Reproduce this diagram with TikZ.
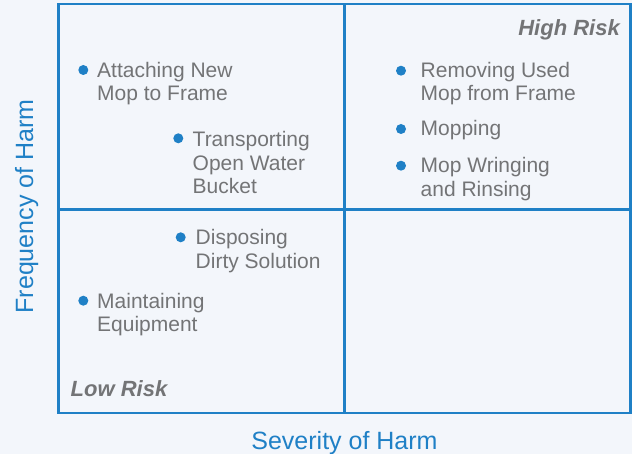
\documentclass[tikz,border=0pt]{standalone}
\usepackage{fontspec}
\setmainfont{Liberation Sans}
\definecolor{bg}{HTML}{F3F6FB}
\definecolor{gridblue}{HTML}{1F80C6}
\definecolor{txtgray}{HTML}{737476}
\begin{document}
\begin{tikzpicture}[x=1pt,y=-1pt,
  item/.style={anchor=base west,inner sep=0pt,align=left,text=txtgray,
    font=\fontsize{21}{23.5}\selectfont},
  dot/.style={circle,fill=gridblue,inner sep=0pt,minimum size=10pt},
  risk/.style={inner sep=0pt,text=txtgray,font=\fontsize{22}{26}\selectfont\bfseries\itshape},
  axis/.style={inner sep=0pt,text=gridblue,font=\fontsize{25}{30}\selectfont},
  gridline/.style={draw=gridblue,line width=2.6pt}]
\fill[bg] (0,0) rectangle (632,454);
\useasboundingbox (0,0) rectangle (632,454);
\draw[gridline] (58.5,4) rectangle (630.5,413);
\draw[gridline] (344.5,4) -- (344.5,413);
\draw[gridline] (58.5,209.5) -- (630.5,209.5);
% top-left (anchor = baseline of last line)
\node[dot] (d1) at (83.3,70) {};
\node[item] (t1) at (97,100.8) {Attaching New\\Mop to Frame};
\node[dot] (d2) at (178.3,138.3) {};
\node[item] (t2) at (192.5,193.7) {Transporting\\Open Water\\Bucket};
% top-right
\node[risk,anchor=base east] (hr) at (620,36) {High Risk};
\node[dot] (d3) at (401,70.7) {};
\node[item] (t3) at (420.5,100.8) {Removing Used\\Mop from Frame};
\node[dot] (d4) at (401,129) {};
\node[item] (t4) at (420.5,136) {Mopping};
\node[dot] (d5) at (401,165.7) {};
\node[item] (t5) at (420.5,196.2) {Mop Wringing\\and Rinsing};
% bottom-left
\node[dot] (d6) at (180.7,237.3) {};
\node[item] (t6) at (195.5,268.5) {Disposing\\Dirty Solution};
\node[dot] (d7) at (83.3,300.7) {};
\node[item] (t7) at (97,331.8) {Maintaining\\Equipment};
\node[risk,anchor=base west] (lr) at (70.5,396) {Low Risk};
% axes
\node[axis,anchor=base] (sev) at (344.5,449) {Severity of Harm};
\node[axis,anchor=base,rotate=90] (freq) at (33,206.5) {Frequency of Harm};
\end{tikzpicture}
\end{document}
